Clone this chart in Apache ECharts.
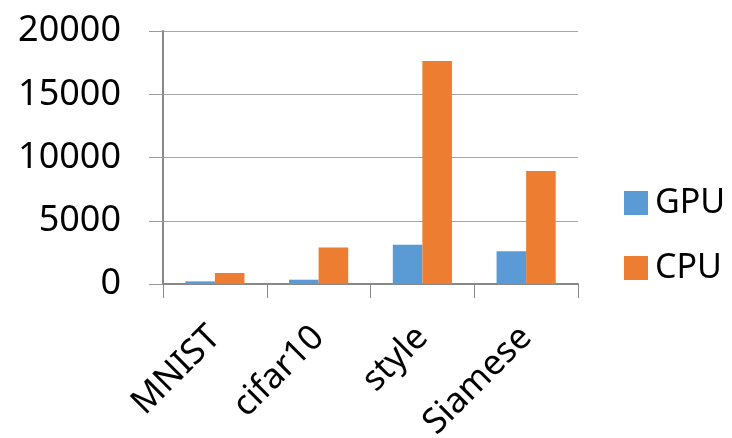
<!DOCTYPE html>
<html>
<head>
<meta charset="utf-8">
<script src="https://cdn.jsdelivr.net/npm/echarts@6/dist/echarts.min.js"></script>
<style>html,body{margin:0;padding:0;background:#fff}#c{width:732px;height:438px}</style>
</head>
<body>
<div id="c"></div>
<script>
const categories = ['MNIST', 'cifar10', 'style', 'Siamese'];
const gpuValues = [210, 340, 3100, 2580];
const cpuValues = [870, 2890, 17630, 8940];
const yTicks = [0, 5000, 10000, 15000, 20000];

const chart = echarts.init(document.getElementById('c'), null, {renderer: 'canvas'});
const font = '"Noto Sans", "Open Sans", sans-serif';
chart.setOption({
  animation: false,
  backgroundColor: '#fff',
  grid: {left: 163, right: 154, top: 31, bottom: 154, containLabel: false, outerBoundsMode: 'none'},
  legend: {
    orient: 'vertical', left: 619, top: 178,
    itemWidth: 24, itemHeight: 24, itemGap: 25,
    icon: 'rect',
    textStyle: {fontFamily: font, fontSize: 34, color: '#000', lineHeight: 40, padding: [0,0,0,2]},
    data: ['GPU', 'CPU']
  },
  xAxis: {
    type: 'category', data: categories,
    axisLine: {lineStyle: {color: '#888', width: 2}},
    axisTick: {show: true, length: 14, lineStyle: {color: '#888', width: 1}},
    axisLabel: {rotate: 45, fontFamily: font, fontSize: 35, color: '#000', margin: 48, interval: 0}
  },
  yAxis: {
    type: 'value', min: yTicks[0], max: yTicks[yTicks.length-1], interval: 5000,
    axisLine: {show: true, lineStyle: {color: '#888', width: 2}},
    axisTick: {show: true, length: 14, lineStyle: {color: '#999', width: 1}},
    splitLine: {lineStyle: {color: '#a6a6a6', width: 1}},
    axisLabel: {fontFamily: font, fontSize: 36, color: '#000', margin: 42, formatter: v => String(v)}
  },
  series: [
    {name: 'GPU', type: 'bar', data: gpuValues, itemStyle: {color: '#5B9BD5'}, barGap: '0%', barCategoryGap: '43%'},
    {name: 'CPU', type: 'bar', data: cpuValues, itemStyle: {color: '#ED7D31'}, barGap: '0%', barCategoryGap: '43%'}
  ]
});
</script>
</body>
</html>
